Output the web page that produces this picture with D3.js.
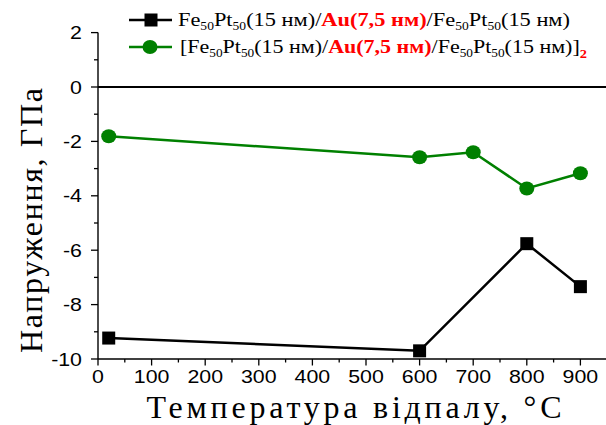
<!DOCTYPE html>
<html>
<head>
<meta charset="utf-8">
<script src="https://cdn.jsdelivr.net/npm/d3@7"></script>
<style>
  html, body { margin: 0; padding: 0; background: #fff; }
  svg { display: block; }
</style>
</head>
<body>
<div id="chart"></div>
<script>
// annealing temperature (°C) and stress (GPa)
const tempsSingle = [20, 600, 800, 900];
const stressSingle = [-9.23, -9.7, -5.76, -7.34];
const tempsDouble = [20, 600, 700, 800, 900];
const stressDouble = [-1.81, -2.58, -2.4, -3.73, -3.17];
const xTicks = [0, 100, 200, 300, 400, 500, 600, 700, 800, 900];
const yTicks = [2, 0, -2, -4, -6, -8, -10];

const width = 606, height = 425;
const stretch = 1.22; // the original figure is a bit wider than tall

const svg = d3.select('#chart').append('svg')
  .attr('width', width).attr('height', height);

const x = d3.scaleLinear().domain([0, 950]).range([98, 98 + 950 * 0.536]);
const y = d3.scaleLinear().domain([-10, 2]).range([359, 359 - 12 * 27.2]);

const sans = "'Liberation Sans', Arial, sans-serif";
const serif = "'Liberation Serif', 'Times New Roman', serif";

// x axis
const xAxis = svg.append('g').attr('transform', `translate(0,${y(-10)})`);
xAxis.append('line').attr('x1', x(0)).attr('x2', width).attr('stroke', '#000').attr('stroke-width', 1.4);
xAxis.selectAll('.minor').data(d3.range(50, 950, 100)).join('line')
  .attr('x1', d => x(d)).attr('x2', d => x(d)).attr('y1', 0).attr('y2', 3.5)
  .attr('stroke', '#000').attr('stroke-width', 1.3);
xAxis.selectAll('.major').data(xTicks).join('line')
  .attr('x1', d => x(d)).attr('x2', d => x(d)).attr('y1', 0).attr('y2', 6.5)
  .attr('stroke', '#000').attr('stroke-width', 1.3);
xAxis.selectAll('text').data(xTicks).join('text')
  .attr('transform', d => `translate(${x(d)},24) scale(${stretch},1)`)
  .attr('text-anchor', 'middle')
  .style('font-family', sans).style('font-size', '17.5px')
  .text(d => d);

// y axis
const yAxis = svg.append('g').attr('transform', `translate(${x(0)},0)`);
yAxis.append('line').attr('y1', y(2)).attr('y2', y(-10)).attr('stroke', '#000').attr('stroke-width', 1.4);
yAxis.selectAll('.minor').data(d3.range(-9, 2, 2)).join('line')
  .attr('x1', -4).attr('x2', 0).attr('y1', d => y(d)).attr('y2', d => y(d))
  .attr('stroke', '#000').attr('stroke-width', 1.3);
yAxis.selectAll('.major').data(yTicks).join('line')
  .attr('x1', -7).attr('x2', 0).attr('y1', d => y(d)).attr('y2', d => y(d))
  .attr('stroke', '#000').attr('stroke-width', 1.3);
yAxis.selectAll('text').data(yTicks).join('text')
  .attr('transform', d => `translate(-16,${y(d) + 6.5}) scale(${stretch},1)`)
  .attr('text-anchor', 'end')
  .style('font-family', sans).style('font-size', '17.5px')
  .text(d => d);

// zero line
svg.append('line')
  .attr('x1', x(0)).attr('x2', width).attr('y1', y(0)).attr('y2', y(0))
  .attr('stroke', '#000').attr('stroke-width', 1.8);

// axis titles: spacing only, glyphs stay at 32px so the serif face is kept
svg.append('text')
  .attr('transform', `translate(42,${(88 + 353) / 2}) rotate(-90)`)
  .attr('text-anchor', 'middle')
  .attr('textLength', 265).attr('lengthAdjust', 'spacing')
  .style('font-family', serif).style('font-size', '32px')
  .text('Напруження, ГПа');
svg.append('text')
  .attr('x', 354).attr('y', 418)
  .attr('text-anchor', 'middle')
  .attr('textLength', 415).attr('lengthAdjust', 'spacing')
  .style('font-family', serif).style('font-size', '32px')
  .text('Температура відпалу, °C');

const line = d3.line().x(d => x(d[0])).y(d => y(d[1]));

// series 1: black squares
const s1 = d3.zip(tempsSingle, stressSingle);
svg.append('path').datum(s1).attr('d', line)
  .attr('fill', 'none').attr('stroke', '#000').attr('stroke-width', 2.5);
svg.selectAll('.sq').data(s1).join('rect')
  .attr('x', d => x(d[0]) - 6.5).attr('y', d => y(d[1]) - 6.5)
  .attr('width', 13).attr('height', 13).attr('fill', '#000');

// series 2: green circles
const green = '#008000';
const s2 = d3.zip(tempsDouble, stressDouble);
svg.append('path').datum(s2).attr('d', line)
  .attr('fill', 'none').attr('stroke', green).attr('stroke-width', 2.5);
svg.selectAll('.ci').data(s2).join('ellipse')
  .attr('cx', d => x(d[0])).attr('cy', d => y(d[1]))
  .attr('rx', 7.5).attr('ry', 7).attr('fill', green);

// legend
const legend = svg.append('g');
function legendText(g, x0, yy, len, bracket) {
  const t = g.append('text').attr('x', x0).attr('y', yy + 6)
    .attr('textLength', len).attr('lengthAdjust', 'spacingAndGlyphs')
    .style('font-family', serif).style('font-size', '19px');
  const parts = [];
  if (bracket) parts.push(['[', '']);
  parts.push(['Fe', ''], ['50', 'sub'], ['Pt', ''], ['50', 'sub'], ['(15 нм)/', ''],
    ['Au(7,5 нм)', 'red'], ['/Fe', ''], ['50', 'sub'], ['Pt', ''], ['50', 'sub'], ['(15 нм)', '']);
  if (bracket) parts.push([']', ''], ['2', 'redsub']);
  let wasSub = false;
  parts.forEach(([s, kind]) => {
    const ts = t.append('tspan').text(s);
    const isSub = kind === 'sub' || kind === 'redsub';
    if (isSub && !wasSub) ts.attr('dy', 4);
    if (!isSub && wasSub) ts.attr('dy', -4);
    if (isSub) ts.style('font-size', '11.5px');
    if (kind === 'red' || kind === 'redsub') ts.attr('fill', '#ff0000').style('font-weight', 'bold');
    if (kind === 'redsub') ts.attr('dy', 5).style('font-size', '12.5px');
    wasSub = isSub;
  });
}
legend.append('line').attr('x1', 129).attr('x2', 172).attr('y1', 20).attr('y2', 20)
  .attr('stroke', '#000').attr('stroke-width', 2.5);
legend.append('rect').attr('x', 144.5).attr('y', 13.5).attr('width', 13).attr('height', 13).attr('fill', '#000');
legendText(legend, 178, 20, 392, false);
legend.append('line').attr('x1', 129).attr('x2', 172).attr('y1', 47).attr('y2', 47)
  .attr('stroke', green).attr('stroke-width', 2.5);
legend.append('ellipse').attr('cx', 150).attr('cy', 47).attr('rx', 7.5).attr('ry', 7).attr('fill', green);
legendText(legend, 180, 47, 407, true);
</script>
</body>
</html>
